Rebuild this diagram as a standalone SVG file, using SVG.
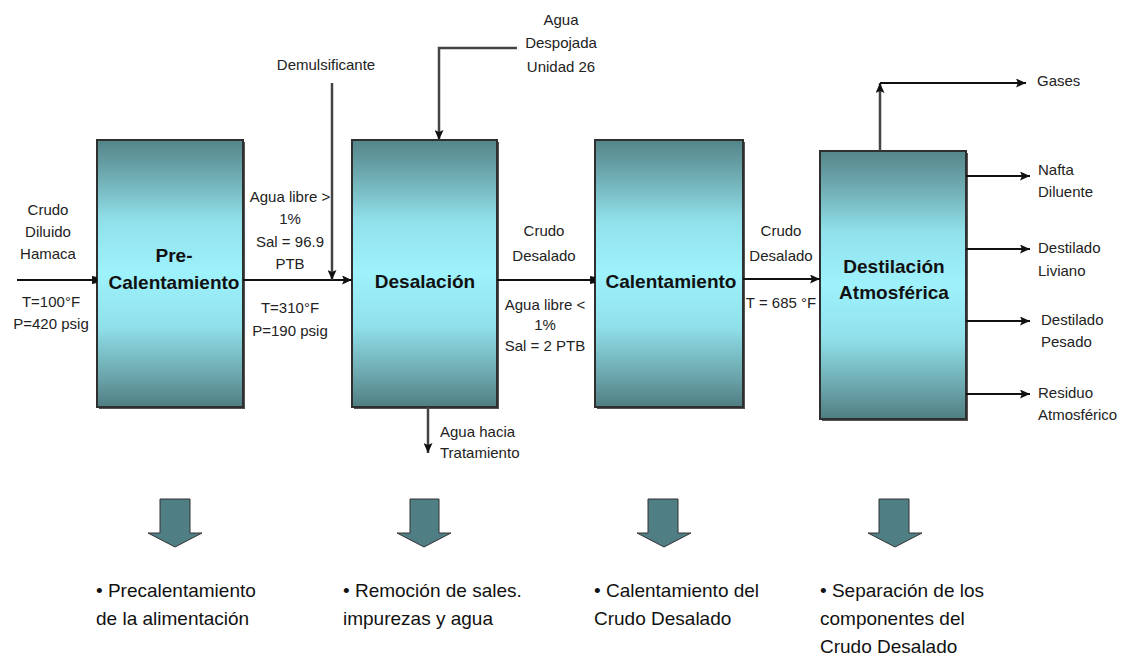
<svg xmlns="http://www.w3.org/2000/svg" width="1130" height="656" viewBox="0 0 1130 656">
  <defs>
    <linearGradient id="unitFill" x1="0" y1="0" x2="0" y2="1">
      <stop offset="0" stop-color="#548589"/>
      <stop offset="0.12" stop-color="#6ca7ad"/>
      <stop offset="0.3" stop-color="#90e0ea"/>
      <stop offset="0.5" stop-color="#9ef2fc"/>
      <stop offset="0.7" stop-color="#90e0ea"/>
      <stop offset="0.88" stop-color="#6ca7ad"/>
      <stop offset="1" stop-color="#4f7e82"/>
    </linearGradient>
    <marker id="arrow" markerUnits="userSpaceOnUse" markerWidth="10" markerHeight="9" refX="10" refY="4.5" orient="auto">
      <path d="M0,0 L10,4.5 L0,9 L2,4.5 z" fill="#111"/>
    </marker>
    <marker id="tab" markerUnits="userSpaceOnUse" markerWidth="5" markerHeight="8" refX="5" refY="4" orient="auto">
      <path d="M0,0 L5,1 L5,7 L0,8 z" fill="#111"/>
    </marker>
  </defs>
  <style>
    .unit { fill: url(#unitFill); stroke: #2f2f2f; stroke-width: 2; }
    .shadow { fill: #555; }
    .unit-label { font-family: "Liberation Sans", Arial, sans-serif; font-size: 19px; font-weight: bold; fill: #111; text-anchor: middle; }
    .lbl { font-family: "Liberation Sans", Arial, sans-serif; font-size: 15px; fill: #222; }
    .mid { text-anchor: middle; }
    .flow { stroke: #111; stroke-width: 2; fill: none; }
    .feed { stroke: #444; stroke-width: 2.5; fill: none; }
    .block { fill: #4f7f84; stroke: #333; stroke-width: 1; }
    .note { font-family: "Liberation Sans", Arial, sans-serif; font-size: 19px; fill: #111; }
  </style>

  <rect width="1130" height="656" fill="#ffffff"/>

  <!-- process units -->
  <g id="precalentamiento">
    <rect class="shadow" x="99" y="142" width="146" height="267"/>
    <rect class="unit" x="97" y="140" width="146" height="267"/>
    <text class="unit-label" x="174" y="262">Pre-</text>
    <text class="unit-label" x="174" y="289">Calentamiento</text>
  </g>
  <g id="desalacion">
    <rect class="shadow" x="354" y="142" width="145" height="267"/>
    <rect class="unit" x="352" y="140" width="145" height="267"/>
    <text class="unit-label" x="425" y="288">Desalación</text>
  </g>
  <g id="calentamiento">
    <rect class="shadow" x="597" y="142" width="148" height="267"/>
    <rect class="unit" x="595" y="140" width="148" height="267"/>
    <text class="unit-label" x="671" y="288">Calentamiento</text>
  </g>
  <g id="destilacion">
    <rect class="shadow" x="822" y="153" width="146" height="268"/>
    <rect class="unit" x="820" y="151" width="146" height="268"/>
    <text class="unit-label" x="894" y="273">Destilación</text>
    <text class="unit-label" x="894" y="299">Atmosférica</text>
  </g>

  <!-- connectors -->
  <g id="connectors">
    <line class="flow" x1="17" y1="280" x2="97" y2="280" marker-end="url(#tab)"/>
    <line class="flow" x1="243" y1="280" x2="352" y2="280" marker-end="url(#arrow)"/>
    <line class="feed" x1="332" y1="83" x2="332" y2="280" marker-end="url(#arrow)"/>
    <polyline class="feed" points="517,48 439,48 439,140" marker-end="url(#arrow)"/>
    <line class="feed" x1="428" y1="407" x2="428" y2="453" marker-end="url(#arrow)"/>
    <line class="flow" x1="497" y1="280" x2="595" y2="280" marker-end="url(#tab)"/>
    <line class="flow" x1="743" y1="279" x2="820" y2="279" marker-end="url(#arrow)"/>
    <line class="feed" x1="880" y1="151" x2="880" y2="83" marker-end="url(#arrow)"/>
    <line class="flow" x1="880" y1="83" x2="1026" y2="83" marker-end="url(#arrow)"/>
    <line class="flow" x1="966" y1="176" x2="1030" y2="176" marker-end="url(#arrow)"/>
    <line class="flow" x1="966" y1="249" x2="1030" y2="249" marker-end="url(#arrow)"/>
    <line class="flow" x1="966" y1="321" x2="1030" y2="321" marker-end="url(#arrow)"/>
    <line class="flow" x1="966" y1="394" x2="1030" y2="394" marker-end="url(#arrow)"/>
  </g>

  <!-- stream labels -->
  <g id="stream-labels">
    <text class="lbl mid" x="48" y="215">Crudo</text>
    <text class="lbl mid" x="48" y="237">Diluido</text>
    <text class="lbl mid" x="48" y="259">Hamaca</text>
    <text class="lbl mid" x="51" y="307">T=100°F</text>
    <text class="lbl mid" x="51" y="329">P=420 psig</text>

    <text class="lbl mid" x="290" y="202">Agua libre &gt;</text>
    <text class="lbl mid" x="290" y="224">1%</text>
    <text class="lbl mid" x="290" y="247">Sal = 96.9</text>
    <text class="lbl mid" x="290" y="269">PTB</text>
    <text class="lbl mid" x="290" y="313">T=310°F</text>
    <text class="lbl mid" x="290" y="336">P=190 psig</text>

    <text class="lbl mid" x="326" y="70">Demulsificante</text>
    <text class="lbl mid" x="561" y="25">Agua</text>
    <text class="lbl mid" x="561" y="48">Despojada</text>
    <text class="lbl mid" x="561" y="72">Unidad 26</text>

    <text class="lbl mid" x="544" y="236">Crudo</text>
    <text class="lbl mid" x="544" y="261">Desalado</text>
    <text class="lbl mid" x="545" y="310">Agua libre &lt;</text>
    <text class="lbl mid" x="545" y="330">1%</text>
    <text class="lbl mid" x="545" y="351">Sal = 2 PTB</text>

    <text class="lbl" x="440" y="437">Agua hacia</text>
    <text class="lbl" x="440" y="458">Tratamiento</text>

    <text class="lbl mid" x="781" y="236">Crudo</text>
    <text class="lbl mid" x="781" y="261">Desalado</text>
    <text class="lbl mid" x="781" y="308">T = 685 °F</text>

    <text class="lbl" x="1037" y="86">Gases</text>
    <text class="lbl" x="1038" y="175">Nafta</text>
    <text class="lbl" x="1038" y="197">Diluente</text>
    <text class="lbl" x="1038" y="253">Destilado</text>
    <text class="lbl" x="1038" y="276">Liviano</text>
    <text class="lbl" x="1041" y="325">Destilado</text>
    <text class="lbl" x="1041" y="347">Pesado</text>
    <text class="lbl" x="1038" y="398">Residuo</text>
    <text class="lbl" x="1038" y="420">Atmosférico</text>
  </g>

  <!-- block arrows with stage descriptions -->
  <g id="stage-1">
    <path class="block" d="M160,499 H190 V533 H202 L175,547 L148,533 H160 Z"/>
    <text class="note" x="96" y="597">• Precalentamiento</text>
    <text class="note" x="96" y="625">de la alimentación</text>
  </g>
  <g id="stage-2">
    <path class="block" d="M410,499 H439 V533 H451 L424,547 L397,533 H410 Z"/>
    <text class="note" x="343" y="597">• Remoción de sales.</text>
    <text class="note" x="343" y="625">impurezas y agua</text>
  </g>
  <g id="stage-3">
    <path class="block" d="M648,499 H678 V533 H691 L664,547 L637,533 H648 Z"/>
    <text class="note" x="594" y="597">• Calentamiento del</text>
    <text class="note" x="594" y="625">Crudo Desalado</text>
  </g>
  <g id="stage-4">
    <path class="block" d="M879,499 H909 V533 H922 L895,547 L868,533 H879 Z"/>
    <text class="note" x="820" y="597">• Separación de los</text>
    <text class="note" x="820" y="625">componentes del</text>
    <text class="note" x="820" y="653">Crudo Desalado</text>
  </g>
</svg>
